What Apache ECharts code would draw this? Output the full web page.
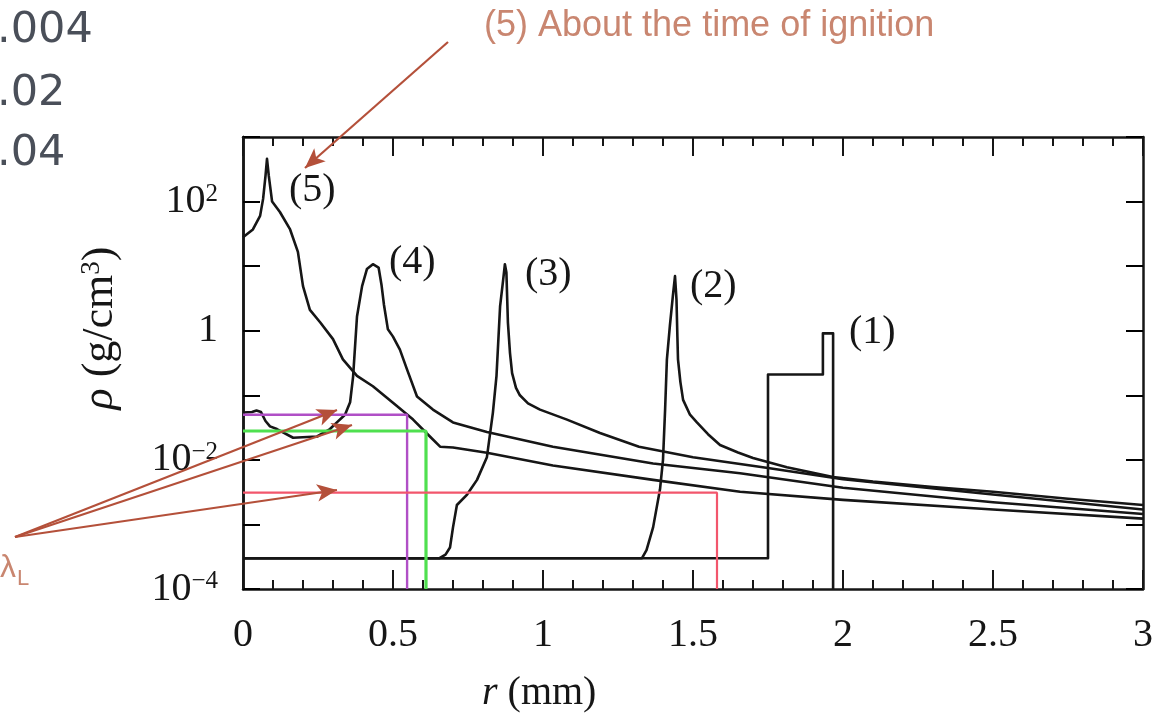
<!DOCTYPE html>
<html>
<head>
<meta charset="utf-8">
<script src="https://cdn.jsdelivr.net/npm/echarts@6/dist/echarts.min.js"></script>
<style>
  html, body { margin: 0; padding: 0; background: #fff; }
  #chartDensity { width: 1160px; height: 726px; }
</style>
</head>
<body>
<div id="chartDensity"></div>
<script>
// r in mm, rho in g/cm3
const r1 = [0, 1.75, 1.75, 1.933, 1.933, 1.967, 1.967];
const rho1 = [3e-4, 3e-4, 0.21, 0.21, 0.91, 0.91, 1e-4];

const r2 = [0, 1.33, 1.345, 1.367, 1.39, 1.40, 1.407, 1.413, 1.423, 1.433, 1.44, 1.445, 1.448, 1.45, 1.458, 1.467, 1.49, 1.513, 1.55, 1.59, 1.65, 1.7, 1.813, 1.967, 2.1, 2.3, 2.5, 2.75, 3.0];
const rho2 = [3e-4, 3e-4, 4e-4, 9e-4, 0.0035, 0.01, 0.06, 0.36, 1.2, 3.5, 7, 3, 0.8, 0.36, 0.16, 0.085, 0.05, 0.038, 0.025, 0.017, 0.013, 0.0107, 0.0077, 0.0054, 0.0046, 0.0038, 0.0032, 0.0025, 0.002];

const r3 = [0, 0.655, 0.675, 0.69, 0.70, 0.713, 0.747, 0.78, 0.813, 0.833, 0.845, 0.857, 0.867, 0.873, 0.878, 0.883, 0.89, 0.897, 0.91, 0.923, 0.95, 0.99, 1.08, 1.19, 1.32, 1.5, 1.75, 2.0, 2.5, 3.0];
const rho3 = [3e-4, 3e-4, 3.4e-4, 4.4e-4, 9e-4, 0.002, 0.0029, 0.0049, 0.011, 0.054, 0.2, 2.4, 6, 10.7, 8, 1.35, 0.45, 0.22, 0.13, 0.1, 0.075, 0.06, 0.042, 0.026, 0.016, 0.011, 0.0075, 0.005, 0.0029, 0.0017];

const r4 = [0, 0.03, 0.045, 0.06, 0.075, 0.09, 0.113, 0.167, 0.247, 0.29, 0.313, 0.34, 0.357, 0.367, 0.38, 0.397, 0.413, 0.433, 0.452, 0.462, 0.47, 0.483, 0.5, 0.523, 0.547, 0.58, 0.633, 0.7, 0.813, 1.033, 1.367, 1.657, 2.0, 2.5, 3.0];
const rho4 = [0.054, 0.055, 0.058, 0.055, 0.04, 0.033, 0.03, 0.022, 0.023, 0.03, 0.038, 0.05, 0.078, 0.195, 1.66, 4.9, 9, 10.7, 9.5, 5, 2.5, 1.05, 0.81, 0.51, 0.25, 0.096, 0.06, 0.038, 0.027, 0.016, 0.0088, 0.0062, 0.0037, 0.0022, 0.00145];

const r5 = [0, 0.033, 0.057, 0.067, 0.075, 0.08, 0.086, 0.097, 0.123, 0.157, 0.183, 0.2, 0.223, 0.257, 0.3, 0.333, 0.38, 0.433, 0.513, 0.567, 0.623, 0.657, 0.7, 0.813, 1.033, 1.367, 1.657, 2.0, 2.5, 3.0];
const rho5 = [28, 37, 60, 110, 250, 460, 250, 100, 69, 37, 16.6, 4.9, 2.1, 1.35, 0.74, 0.36, 0.2, 0.138, 0.068, 0.042, 0.023, 0.016, 0.0155, 0.0129, 0.0082, 0.0049, 0.0032, 0.0024, 0.0017, 0.00123];

// laser wavelength markers (lambda_L)
const lamPurpleR = [0, 0.547, 0.547];
const lamPurpleRho = [0.05, 0.05, 1e-4];
const lamGreenR = [0, 0.61, 0.61];
const lamGreenRho = [0.028, 0.028, 1e-4];
const lamRedR = [0, 1.58, 1.58];
const lamRedRho = [0.0031, 0.0031, 1e-4];

// r axis tick positions (long ones every 0.5)
const rMajorTicks = [0, 0.5, 1, 1.5, 2, 2.5, 3];
const rMinorTicks = [0.1, 0.2, 0.3, 0.4, 0.6, 0.7, 0.8, 0.9, 1.1, 1.2, 1.3, 1.4, 1.6, 1.7, 1.8, 1.9, 2.1, 2.2, 2.3, 2.4, 2.6, 2.7, 2.8, 2.9];

const curveNames = ['(1)', '(2)', '(3)', '(4)', '(5)'];

function zip(a, b) {
    return a.map((v, i) => [v, b[i]]);
}

const serif = '"Liberation Serif", "DejaVu Serif", serif';
const ink = '#161616';
const arrowColor = '#b4503a';
const noteColor = '#c98670';

function logLabel(v) {
    const e = Math.round(Math.log10(v));
    if (e % 2 !== 0) return '';
    if (e === 0) return '1';
    return '10{sup|' + (e < 0 ? '\u2212' : '') + Math.abs(e) + '}';
}

// labelled axis carries no ticks; the tick-only axes draw the inner ticks
function yAxisOpt(pos, withLabels) {
    return {
        type: 'log',
        logBase: 10,
        position: pos,
        min: 1e-4,
        max: 1e3,
        interval: 1,
        axisLine: { show: true, onZero: false, lineStyle: { color: ink, width: 2.5 } },
        axisTick: { show: !withLabels, inside: true, length: 17, lineStyle: { color: '#000000', width: 2 } },
        splitLine: { show: false },
        axisLabel: withLabels ? {
            show: true, margin: 25, fontFamily: serif, fontSize: 40, color: ink,
            formatter: logLabel,
            rich: { sup: { fontFamily: serif, fontSize: 25, verticalAlign: 'top', lineHeight: 25, color: ink } }
        } : { show: false }
    };
}

function xAxisOpt(pos, withLabels) {
    return {
        type: 'value',
        position: pos,
        min: 0,
        max: 3,
        interval: 0.5,
        axisLine: { show: true, onZero: false, lineStyle: { color: ink, width: 2.5 } },
        axisTick: { show: false },
        splitLine: { show: false },
        axisLabel: withLabels
            ? { show: true, margin: 26, fontFamily: serif, fontSize: 40, color: ink }
            : { show: false }
    };
}

// inner ticks on the bottom and top frame lines
function renderRTick(params, api) {
    const r = api.value(0);
    const len = api.value(1);
    const b = api.coord([r, 1e-4]);
    const t = api.coord([r, 1e3]);
    const st = { stroke: ink, lineWidth: 2 };
    return {
        type: 'group',
        children: [
            { type: 'line', shape: { x1: b[0], y1: b[1], x2: b[0], y2: b[1] - len }, style: st },
            { type: 'line', shape: { x1: t[0], y1: t[1], x2: t[0], y2: t[1] + len }, style: st }
        ]
    };
}

const curveData = [zip(r1, rho1), zip(r2, rho2), zip(r3, rho3), zip(r4, rho4), zip(r5, rho5)];

const series = curveData.map((d, i) => ({
    name: curveNames[i],
    type: 'line',
    symbol: 'none',
    data: d,
    lineStyle: { color: ink, width: 2.6, join: 'round' },
    z: 2
}));

series.push({
    type: 'line', symbol: 'none', data: zip(lamPurpleR, lamPurpleRho),
    lineStyle: { color: '#b04fc6', width: 2.4 }, z: 3
});
series.push({
    type: 'line', symbol: 'none', data: zip(lamGreenR, lamGreenRho),
    lineStyle: { color: '#4fe04f', width: 3.2 }, z: 3
});
series.push({
    type: 'line', symbol: 'none', data: zip(lamRedR, lamRedRho),
    lineStyle: { color: '#f2566c', width: 2.2 }, z: 3,
    clip: false,
    markLine: {
        silent: true,
        symbol: ['none', 'arrow'],
        symbolSize: [13, 20],
        label: { show: false },
        lineStyle: { color: arrowColor, width: 2.2, type: 'solid' },
        data: [
            [{ x: 448, y: 42 }, { x: 305, y: 168 }],
            [{ x: 15, y: 537 }, { x: 337, y: 410 }],
            [{ x: 15, y: 537 }, { x: 352, y: 425 }],
            [{ x: 15, y: 537 }, { x: 337, y: 490 }]
        ]
    }
});
series.push({
    type: 'custom',
    renderItem: renderRTick,
    clip: false,
    silent: true,
    encode: { x: 0 },
    data: rMajorTicks.map(v => [v, 19]).concat(rMinorTicks.map(v => [v, 9])),
    z: 4
});

const option = {
    animation: false,
    backgroundColor: '#fff',
    grid: { left: 243, right: 17, top: 137, bottom: 137 },
    xAxis: [xAxisOpt('bottom', true), xAxisOpt('top', false)],
    yAxis: [yAxisOpt('left', true), yAxisOpt('right', false), yAxisOpt('left', false)],
    series: series,
    graphic: [
        // cut-off numbers at the top left
        { type: 'text', left: -3, top: 9, style: { text: '.004', font: '43px "DejaVu Sans"', fill: '#4a4f59' } },
        { type: 'text', left: -3, top: 72, style: { text: '.02', font: '43px "DejaVu Sans"', fill: '#4a4f59' } },
        { type: 'text', left: -3, top: 132, style: { text: '.04', font: '43px "DejaVu Sans"', fill: '#4a4f59' } },
        { type: 'text', left: 484, top: 8, style: { text: '(5) About the time of ignition', font: '36px "Liberation Sans"', fill: noteColor } },
        {
            type: 'text', left: 0, top: 552,
            style: {
                text: '{l|\u03bb}{s|L}', fill: noteColor,
                rich: {
                    l: { fontFamily: '"Liberation Sans"', fontSize: 32, fill: noteColor, verticalAlign: 'top' },
                    s: { fontFamily: '"Liberation Sans"', fontSize: 22, fill: noteColor, verticalAlign: 'bottom', padding: [16, 0, 0, 1] }
                }
            }
        },
        // curve labels
        { type: 'text', left: 289, top: 170, style: { text: curveNames[4], font: '40px ' + serif, fill: ink } },
        { type: 'text', left: 389, top: 242, style: { text: curveNames[3], font: '40px ' + serif, fill: ink } },
        { type: 'text', left: 525, top: 254, style: { text: curveNames[2], font: '40px ' + serif, fill: ink } },
        { type: 'text', left: 690, top: 266, style: { text: curveNames[1], font: '40px ' + serif, fill: ink } },
        { type: 'text', left: 849, top: 312, style: { text: curveNames[0], font: '40px ' + serif, fill: ink } },
        // axis titles
        {
            type: 'text', left: 482, top: 673,
            style: {
                text: '{i|r} (mm)', font: '40px ' + serif, fill: ink,
                rich: { i: { fontFamily: serif, fontSize: 40, fontStyle: 'italic', fill: ink } }
            }
        },
        {
            type: 'text', x: 100, y: 328, rotation: Math.PI / 2,
            style: {
                text: '{i|\u03c1} (g/cm{sup|3})', font: '44px ' + serif, fill: ink,
                align: 'center', verticalAlign: 'middle',
                rich: {
                    i: { fontFamily: serif, fontSize: 44, fontStyle: 'italic', fill: ink },
                    sup: { fontFamily: serif, fontSize: 27, verticalAlign: 'top', fill: ink }
                }
            }
        }
    ]
};

var myChart = echarts.init(document.getElementById('chartDensity'));
myChart.setOption(option);
</script>
</body>
</html>
